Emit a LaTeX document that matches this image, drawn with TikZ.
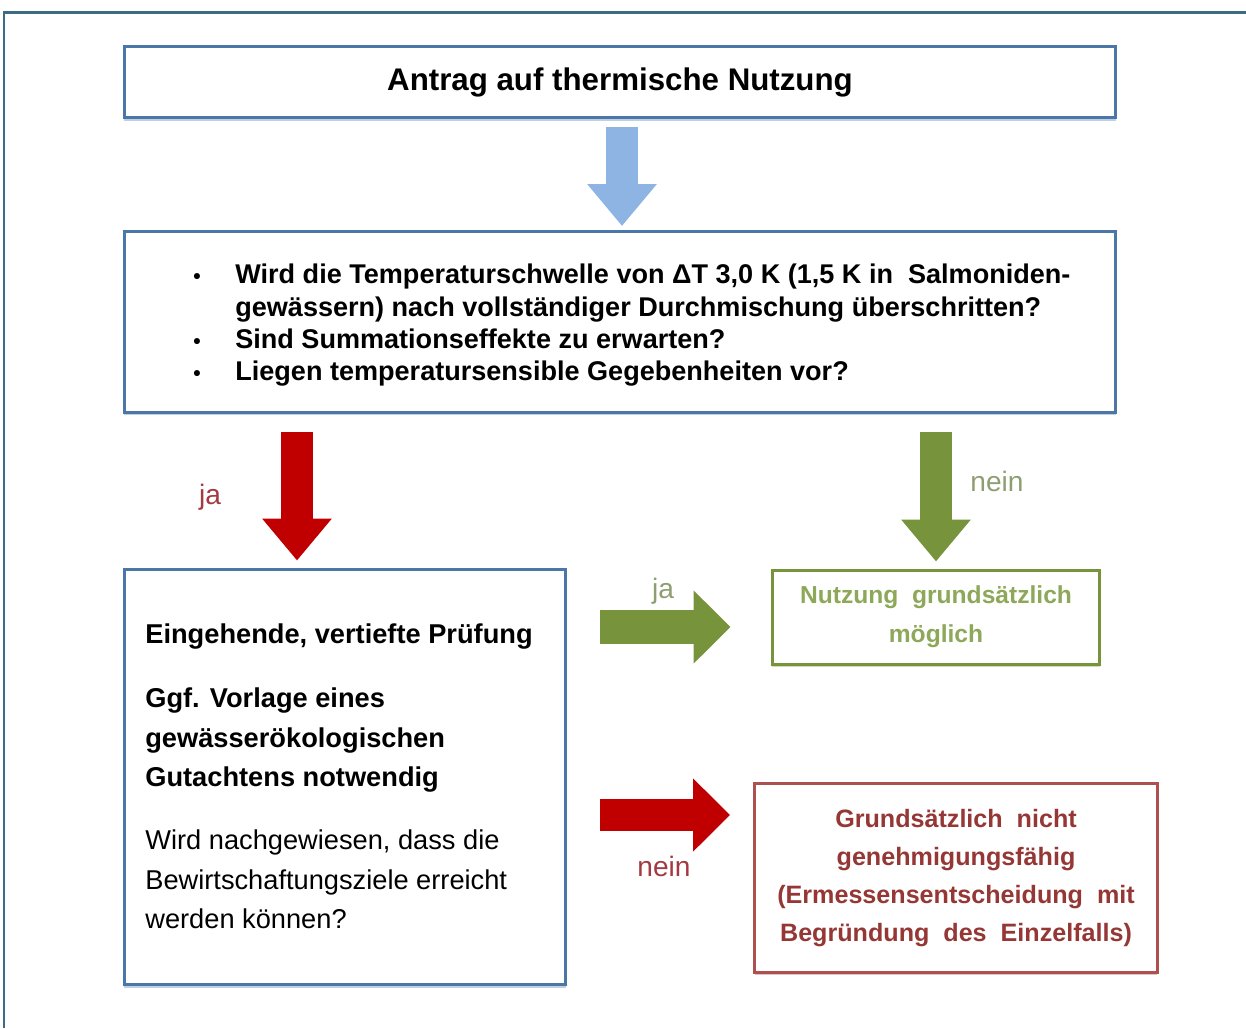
\documentclass[tikz,border=0pt]{standalone}
\usepackage{fontspec}
\setmainfont{Liberation Sans}
\usepackage{xcolor}
\usetikzlibrary{arrows.meta, positioning, calc, shadows}
\definecolor{framedark}{HTML}{3C6B84}
\definecolor{boxblue}{HTML}{4A76A8}
\definecolor{arrowblue}{HTML}{8DB4E2}
\definecolor{arrowred}{HTML}{C00000}
\definecolor{arrowgreen}{HTML}{77933C}
\definecolor{textgreen}{HTML}{8EA85A}
\definecolor{labelgreen}{HTML}{8E9E72}
\definecolor{boxred}{HTML}{AD5050}
\definecolor{textred}{HTML}{953735}
\definecolor{labelred}{HTML}{A33A42}

\tikzset{
  flowbox/.style={draw=#1, line width=0.06cm, fill=white, inner sep=0pt,
    drop shadow={shadow xshift=0pt, shadow yshift=-1.5pt, opacity=0.35, fill=#1}},
  vblock/.style={line width=0.64cm, #1,
    -{Triangle[width=1.34cm, length=0.84cm]}},
  hblock/.style={line width=0.68cm, #1,
    -{Triangle[width=1.42cm, length=0.74cm]}},
  armlabel/.style={font=\fontsize{16}{16}\selectfont, text=#1}
}
\newcommand{\fragepunkt}{{\fontsize{12}{12}\selectfont\textbullet}}

\begin{document}
\begin{tikzpicture}[x=0.02cm, y=-0.02cm]
  \useasboundingbox (0,0) rectangle (1246,1028);

  % Outer frame (top and left edges)
  \draw[framedark, line width=0.06cm] (4,1028) -- (4,12) -- (1246,12);

  % Boxes
  \node[flowbox=boxblue, minimum width=19.84cm, minimum height=1.44cm,
    font=\fontsize{17.8}{17.8}\selectfont\bfseries] (antrag) at (620,82)
    {Antrag auf thermische Nutzung};
  \node[flowbox=boxblue, minimum width=19.84cm, minimum height=3.62cm] (frage) at (620,322) {};
  \node[flowbox=boxblue, minimum width=8.84cm, minimum height=8.32cm] (pruefung) at (345,777) {};
  \node[flowbox=arrowgreen, minimum width=6.56cm, minimum height=1.88cm,
    align=center, text=textgreen, font=\fontsize{14}{22}\selectfont\bfseries] (moeglich) at (936,617)
    {Nutzung\ \ grundsätzlich\\möglich};
  \node[flowbox=boxred, minimum width=8.06cm, minimum height=3.78cm,
    align=center, text=textred, font=\fontsize{14.3}{21.5}\selectfont\bfseries] (nicht) at (956,878)
    {Grundsätzlich\ \ nicht\\genehmigungsfähig\\(Ermessensentscheidung\ \ mit\\Begründung\ \ des\ \ Einzelfalls)};

  % Questions
  \node[anchor=north west, inner sep=0pt, font=\fontsize{15.4}{18.3}\selectfont\bfseries] (fragetext) at (193,261)
    {\begin{tabular}{@{}p{0.84cm}@{}l@{}}
      \fragepunkt & Wird die Temperaturschwelle von ΔT 3,0 K (1,5 K in\ \ Salmoniden-\\
      & gewässern) nach vollständiger Durchmischung überschritten?\\
      \fragepunkt & Sind Summationseffekte zu erwarten?\\
      \fragepunkt & Liegen temperatursensible Gegebenheiten vor?
    \end{tabular}};

  % Detailed check
  \node[anchor=north west, inner sep=0pt, align=left, font=\fontsize{15.5}{22.6}\selectfont] (pruefungtext) at (145,623)
    {\bfseries Eingehende, vertiefte Prüfung\\[14pt]
     \bfseries Ggf. Vorlage eines\\
     \bfseries gewässerökologischen\\
     \bfseries Gutachtens notwendig\\[13pt]
     Wird nachgewiesen, dass die\\
     Bewirtschaftungsziele erreicht\\
     werden können?};

  % Block arrows
  \coordinate (startblau) at (622,127);
  \coordinate (startja) at (297,432);
  \coordinate (startnein) at (936,432);
  \coordinate (rechtsja) at (600,627);
  \coordinate (rechtsnein) at (600,815);
  \draw[vblock=arrowblue, shorten >=0.08cm] (startblau) -- (startblau |- frage.north);
  \draw[vblock=arrowred, shorten >=0.14cm] (startja) -- (startja |- pruefung.north);
  \draw[vblock=arrowgreen, shorten >=0.14cm] (startnein) -- (moeglich.north);
  \draw[hblock=arrowgreen, shorten >=0.8cm] (rechtsja) -- (rechtsja -| moeglich.west);
  \draw[hblock=arrowred, line width=0.64cm, shorten >=0.46cm] (rechtsnein) -- (rechtsnein -| nicht.west);

  % Arrow labels
  \node[armlabel=labelred] (jaunten) at (210,497) {ja};
  \node[armlabel=labelgreen] (neinrechts) at (997,481) {nein};
  \node[armlabel=labelgreen] (jarechts) at (663,591) {ja};
  \node[armlabel=labelred] (neinunten) at (664,866) {nein};
\end{tikzpicture}
\end{document}
